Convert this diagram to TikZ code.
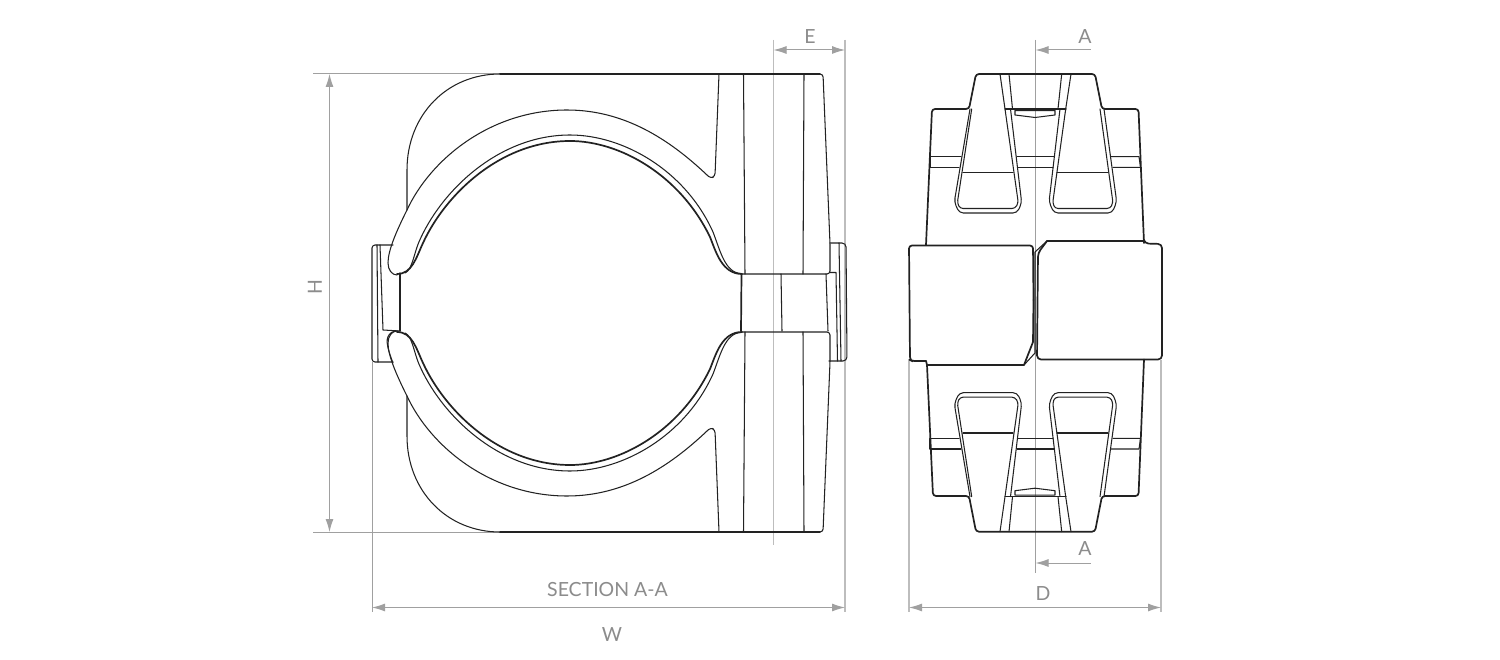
\documentclass[tikz,border=0pt]{standalone}
\usepackage{fontspec}
\setmainfont{Lato}
\usetikzlibrary{arrows.meta}
\definecolor{ink}{HTML}{222222}
\definecolor{dimc}{HTML}{A0A0A0}
\definecolor{dimlight}{HTML}{BDBDBD}
\definecolor{txtc}{HTML}{8C8C8C}
\tikzset{
  thinl/.style={draw=ink,line width=1.05pt,line join=round,line cap=round},
  heavy/.style={draw=ink,line width=1.7pt,line join=round,line cap=round},
  dimext/.style={draw=dimc,line width=1pt},
  dimextl/.style={draw=dimlight,line width=1.2pt},
  dimarr/.style={draw=dimc,line width=1pt,{Latex[length=13pt,width=8pt,fill=dimc]}-{Latex[length=13pt,width=8pt,fill=dimc]}},
  dimone/.style={draw=dimc,line width=1pt,{Latex[length=13pt,width=8pt,fill=dimc]}-},
  dimtxt/.style={text=txtc,font=\fontsize{19.5}{22}\selectfont,inner sep=0pt}
}
\newcommand{\clampHalf}{%
  % circle bore
  \draw[heavy] (397,274) .. controls (412,274) and (416,258) .. (423,243)
    .. controls (445,195) and (500,141) .. (570,141)
    .. controls (620,141) and (680,175) .. (710,237)
    .. controls (716,252) and (722,274) .. (742,274);
  \draw[thinl] (405,273) .. controls (412,270) and (414,254) .. (418.5,243)
    .. controls (440,192) and (498,135) .. (570,135)
    .. controls (623,135) and (685,170) .. (713,232)
    .. controls (720,250) and (725,273) .. (741,273.5);
  % band and notch
  \draw[thinl] (707,175) .. controls (670,140) and (625,110) .. (567,110)
    .. controls (490,110) and (430,160) .. (407,210)
    .. controls (397,230) and (388,250) .. (388,263)
    .. controls (388,270) and (392,275) .. (397,275);
  \draw[thinl,rounded corners=3pt] (707,175) -- (711,178.5) -- (715,176) -- (719,74);
  % body corner
  \draw[thinl] (500,74) .. controls (447,74) and (407,115) .. (407,170) -- (407,210);
  \draw[thinl] (500,74) -- (820,74);
  \draw[thinl,rounded corners=3pt] (815,74) -- (823,74) -- (830,244) -- (830,274) -- (741,274);
  \draw[thinl] (743.5,74) -- (745,274);
  \draw[thinl] (804,74) -- (803,274);
}
\newcommand{\slotHalf}{%
  \draw[thinl,rounded corners=4pt] (970,109) -- (954.3,202) -- (959.3,213) -- (1017,213) -- (1021.7,203) -- (1010.5,109);
  \draw[thinl,rounded corners=3pt] (971.7,109) -- (957.3,203) -- (960,208.5) -- (1015,208.5) -- (1018.3,203) -- (1005,109) -- (1000,74);
  \draw[thinl,rounded corners=4pt] (1060,109) -- (1049,202) -- (1054,213) -- (1112,213) -- (1116.7,202) -- (1104,109);
  \draw[thinl,rounded corners=3pt] (1071,74) -- (1065.7,109) -- (1052.7,203) -- (1055,208.5) -- (1110,208.5) -- (1113,203) -- (1100,109);
  \draw[thinl] (1009,74) -- (1012.5,109);
  \draw[thinl] (1061.7,74) -- (1058,109);
  \draw[thinl] (963,172.7) -- (1013,172.7);
  \draw[thinl] (1057,172.7) -- (1108,172.7);
  \draw[thinl] (961,156.7) -- (930,156.7) -- (930,167.3) -- (959,167.3);
  \draw[thinl] (1017,156.7) -- (1054.5,156.7);
  \draw[thinl] (1018,167.3) -- (1053,167.3);
  \draw[thinl] (1111,156.7) -- (1139,156.7) -- (1140.5,167.3) -- (1113,167.3);
  \draw[thinl] (1005,109) -- (1066,109);
  \draw[thinl] (1015,110.5) -- (1015,115) -- (1035,117.5) -- (1055,115) -- (1055,110.5) -- cycle;
}
\begin{document}
\begin{tikzpicture}[x=1pt,y=-1pt]
\useasboundingbox (0,0) rectangle (1500,660);
\fill[white] (0,0) rectangle (1500,660);
% dimension anchors
\coordinate (hT) at (313,74); \coordinate (hTe) at (500,74);
\coordinate (hB) at (313,532); \coordinate (hBe) at (500,532);
\coordinate (hA) at (329.5,74); \coordinate (hZ) at (329.5,532);
\coordinate (wL) at (372,362); \coordinate (wLb) at (372,612);
\coordinate (wR) at (845,40); \coordinate (wRb) at (845,612);
\coordinate (wA) at (372,607.5); \coordinate (wZ) at (845,607.5);
\coordinate (eL) at (773.5,40); \coordinate (eLb) at (773.5,545);
\coordinate (eA) at (773.5,50); \coordinate (eZ) at (845,50);
\coordinate (dL) at (909,360); \coordinate (dLb) at (909,612);
\coordinate (dR) at (1161,360); \coordinate (dRb) at (1161,612);
\coordinate (dA) at (909,607.5); \coordinate (dZ) at (1161,607.5);
\coordinate (cT) at (1035.5,40); \coordinate (cB) at (1035.5,573);
\coordinate (aA) at (1035.5,50); \coordinate (aZ) at (1091,50);
\coordinate (bA) at (1035.5,563); \coordinate (bZ) at (1091,563);
\draw[dimext] (hT) -- (hTe);
\draw[dimext] (hB) -- (hBe);
\draw[dimarr] (hA) -- (hZ);
\draw[dimext] (wL) -- (wLb);
\draw[dimextl] (wR) -- (wRb);
\draw[dimarr] (wA) -- (wZ);
\draw[dimextl] (eL) -- (eLb);
\draw[dimarr] (eA) -- (eZ);
\draw[dimextl] (dL) -- (dLb);
\draw[dimextl] (dR) -- (dRb);
\draw[dimarr] (dA) -- (dZ);
\draw[dimext] (cT) -- (cB);
\draw[dimone] (aA) -- (aZ);
\draw[dimone] (bA) -- (bZ);
% labels
\node[dimtxt,rotate=90] (lH) at (315,287) {H};
\node[dimtxt] (lW) at (612,635) {W};
\node[dimtxt] (lS) at (607.5,590) {SECTION A-A};
\node[dimtxt] (lE) at (810,37) {E};
\node[dimtxt] (lD) at (1043,594) {D};
\node[dimtxt] (lA) at (1085,37) {A};
\node[dimtxt] (lB) at (1085,549) {A};
% left view
\clampHalf
\begin{scope}[y=1pt,yshift=-606pt]
\clampHalf
\end{scope}
% extra contour round the lower tip
\draw[thinl] (393,363) .. controls (388,350) and (385,340) .. (389,335) .. controls (391,332) and (394,331) .. (398,331);
% centre block
\draw[heavy] (741.5,274) -- (741,331);
\draw[thinl] (781,274) -- (782,331);
\draw[thinl] (826,274) -- (828,331);
% left tab
\draw[thinl,rounded corners=3pt] (393,245) -- (372,245) -- (372,362) -- (393,362);
\draw[thinl] (377,245) -- (378,362);
\draw[thinl] (380,245) -- (383,330) -- (400,331);
\draw[thinl] (400,273) -- (400,331);
% right tab
\draw[thinl,rounded corners=4pt] (830,243) -- (846,243) -- (847,361) -- (829,361);
\draw[thinl] (839,243) -- (841,361);
\draw[thinl] (830,272.5) -- (836,272.5) -- (837.5,361);
% right view: pads
\draw[heavy,rounded corners=3pt] (1033.5,300) -- (1033,245.5) -- (909,245.5) -- (910,360) -- (912,361) -- (926,361);
\draw[heavy] (926,361) -- (927,365) -- (1024,365) -- (1033,342) -- (1033.5,300);
\draw[heavy,rounded corners=4pt] (1144,241) -- (1144.5,243.5) -- (1162,244) -- (1162,359.5) -- (1037,359.5) -- (1038,253) -- (1047,241);
\draw[heavy] (1047,241) -- (1144,241);
\draw[thinl] (1024,365) -- (1035,353) -- (1035,252) -- (1047,241);
% right view: body contour
\draw[heavy,rounded corners=3pt] (926,245) -- (932,109) -- (969,109) -- (976,74) -- (1095,74) -- (1102,109) -- (1138.5,109) -- (1144,243);
\draw[heavy,rounded corners=3pt] (927,365) -- (933,496) -- (969,496) -- (976,531.7) -- (1095,531.7) -- (1102,496) -- (1138.5,496) -- (1144,359.5);
\slotHalf
\begin{scope}[y=1pt,yshift=-605.7pt]
\slotHalf
\end{scope}
\end{tikzpicture}
\end{document}
